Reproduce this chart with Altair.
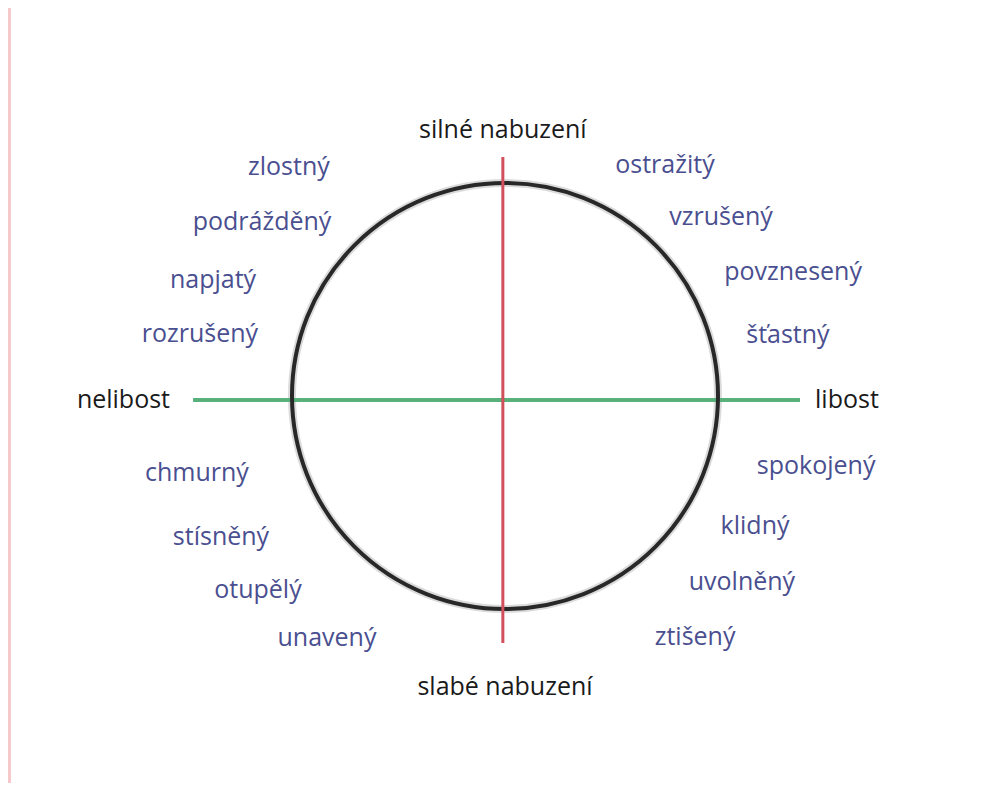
import altair as alt
import pandas as pd

# emotion words placed in valence (x) / arousal (y) space, circle radius = 1
words = ["zlostný", "podrážděný", "napjatý", "rozrušený",
         "chmurný", "stísněný", "otupělý", "unavený",
         "ostražitý", "vzrušený", "povznesený", "šťastný",
         "spokojený", "klidný", "uvolněný", "ztišený"]
word_valence = [-1.005, -1.130, -1.358, -1.419,
                -1.433, -1.321, -1.149, -0.828,
                0.744, 1.005, 1.340, 1.316,
                1.447, 1.163, 1.102, 0.884]
word_arousal = [1.065, 0.809, 0.540, 0.288,
                -0.358, -0.656, -0.902, -1.126,
                1.074, 0.833, 0.577, 0.284,
                -0.326, -0.605, -0.865, -1.121]

axis_names = ["silné nabuzení", "slabé nabuzení", "nelibost", "libost"]
axis_valence = [-0.01, 0.0, -1.558, 1.442]
axis_arousal = [1.237, -1.353, -0.019, -0.019]
axis_align = ["center", "center", "right", "left"]

# axes lines: arousal (vertical, red) and valence (horizontal, green)
arousal_line = {"v": [-0.01], "a1": [1.112], "a2": [-1.149]}
valence_line = {"a": [-0.019], "v1": [-1.451], "v2": [1.372]}

xs = alt.Scale(domain=[-2.2977, 2.1907], nice=False, zero=False)
ys = alt.Scale(domain=[-1.8, 1.8047], nice=False, zero=False)

words_df = pd.DataFrame({"w": words, "v": word_valence, "a": word_arousal})
axis_df = pd.DataFrame({"w": axis_names, "v": axis_valence, "a": axis_arousal,
                        "al": axis_align})
center_df = pd.DataFrame({"v": [0.0], "a": [0.0]})

X = lambda f: alt.X(f, scale=xs, axis=None)
Y = lambda f: alt.Y(f, scale=ys, axis=None)

ring_shadow = alt.Chart(center_df).mark_point(
    shape="circle", filled=False, size=181476, strokeWidth=8,
    color="#9a9a9a", opacity=0.35
).encode(x=X("v:Q"), y=Y("a:Q"))

ring = alt.Chart(center_df).mark_point(
    shape="circle", filled=False, size=181476, strokeWidth=4,
    color="#282828", opacity=1
).encode(x=X("v:Q"), y=Y("a:Q"))

red = alt.Chart(pd.DataFrame(arousal_line)).mark_rule(
    color="#d0505c", strokeWidth=3
).encode(x=X("v:Q"), y=Y("a1:Q"), y2="a2:Q")

green = alt.Chart(pd.DataFrame(valence_line)).mark_rule(
    color="#58b07a", strokeWidth=4
).encode(x=X("v1:Q"), x2="v2:Q", y=Y("a:Q"))

word_text = alt.Chart(words_df).mark_text(
    font="Open Sans", fontSize=25, color="#4a4f90", align="center",
    baseline="middle"
).encode(x=X("v:Q"), y=Y("a:Q"), text="w:N")

layers = []
for al in ["center", "right", "left"]:
    layers.append(
        alt.Chart(axis_df).transform_filter(alt.datum.al == al).mark_text(
            font="Open Sans", fontSize=25, color="#1a1a1a", align=al,
            baseline="middle"
        ).encode(x=X("v:Q"), y=Y("a:Q"), text="w:N")
    )

chart = alt.layer(ring_shadow, green, ring, red, word_text, *layers).properties(
    width=965, height=775,
    background="#f5c9ca",
    padding={"left": 3, "top": 0, "right": 0, "bottom": 0},
    autosize=alt.AutoSizeParams(type="none"),
).configure_view(stroke=None, fill="white")

chart.save("out.html", embed_options={"renderer": "svg", "actions": False})
